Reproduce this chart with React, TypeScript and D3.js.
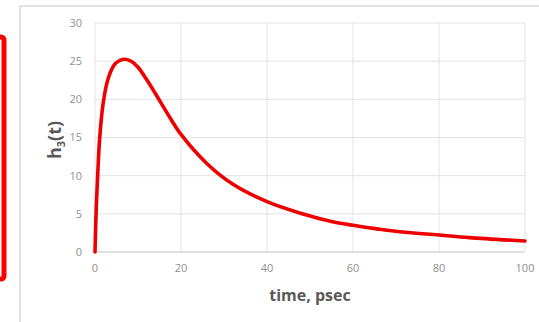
import React from "react";
import * as d3 from "d3";

const timeValues = [0, 0.3, 0.7, 1.1, 1.9, 3.0, 4.6, 5.8, 7, 8.5, 10, 12, 14, 17, 20, 26, 32, 40, 48, 55, 60, 66, 72, 80, 87, 100];
const hValues = [0, 6, 11, 15, 19.5, 22.6, 24.6, 25.1, 25.25, 24.95, 24.2, 22.6, 20.8, 18.0, 15.4, 11.6, 8.9, 6.6, 5.05, 4.0, 3.5, 3.0, 2.58, 2.22, 1.88, 1.44];
const xTicks = [0, 20, 40, 60, 80, 100];
const yTicks = [0, 5, 10, 15, 20, 25, 30];

export default function App() {
  const W = 539, H = 322;
  const x = d3.scaleLinear().domain([0, 100]).range([95, 525]);
  const y = d3.scaleLinear().domain([0, 30]).range([252, 23]);
  const data = timeValues.map((t, i) => [t, hValues[i]] as [number, number]);
  const line = d3.line<[number, number]>().x(d => x(d[0])).y(d => y(d[1])).curve(d3.curveCatmullRom.alpha(0.5));
  const font = "'Open Sans', 'Liberation Sans', sans-serif";
  return (
    <svg width={W} height={H} style={{ position: "absolute", left: 0, top: 0, background: "#fff" }}>
      <rect x={-20} y={37} width={24} height={242} rx={3} fill="none" stroke="#ff0000" strokeWidth={5} />
      <line x1={20} y1={6} x2={W} y2={6} stroke="#d9d9d9" strokeWidth={1.5} />
      <line x1={20} y1={6} x2={20} y2={H} stroke="#d9d9d9" strokeWidth={1.5} />
      {yTicks.map(v => (
        <line key={"gy" + v} x1={x(0)} x2={x(100)} y1={y(v)} y2={y(v)} stroke="#e3e3e3" strokeWidth={1} />
      ))}
      {xTicks.map(v => (
        <line key={"gx" + v} x1={x(v)} x2={x(v)} y1={y(0)} y2={y(30)} stroke="#e3e3e3" strokeWidth={1} />
      ))}
      <line x1={x(0)} x2={x(100)} y1={y(0)} y2={y(0)} stroke="#d0d0d0" strokeWidth={1} />
      {yTicks.map(v => (
        <text key={"ty" + v} x={82} y={y(v)} dy="0.35em" textAnchor="end" fontSize={11} fill="#8f8f8f" fontFamily={font}>{v}</text>
      ))}
      {xTicks.map(v => (
        <text key={"tx" + v} x={x(v)} y={272} textAnchor="middle" fontSize={11} fill="#8f8f8f" fontFamily={font}>{v}</text>
      ))}
      <path d={line(data) || ""} fill="none" stroke="#ee0000" strokeWidth={3.6} strokeLinejoin="round" strokeLinecap="round" />
      <text x={310} y={301} textAnchor="middle" fontSize={16} fontWeight="bold" fill="#595959" fontFamily={font}>time, psec</text>
      <text transform="translate(61,140) rotate(-90)" textAnchor="middle" fontSize={18} fontWeight="bold" fill="#595959" fontFamily={font}>
        h<tspan fontSize={11} dy={4}>3</tspan><tspan dy={-4}>(t)</tspan>
      </text>
    </svg>
  );
}
